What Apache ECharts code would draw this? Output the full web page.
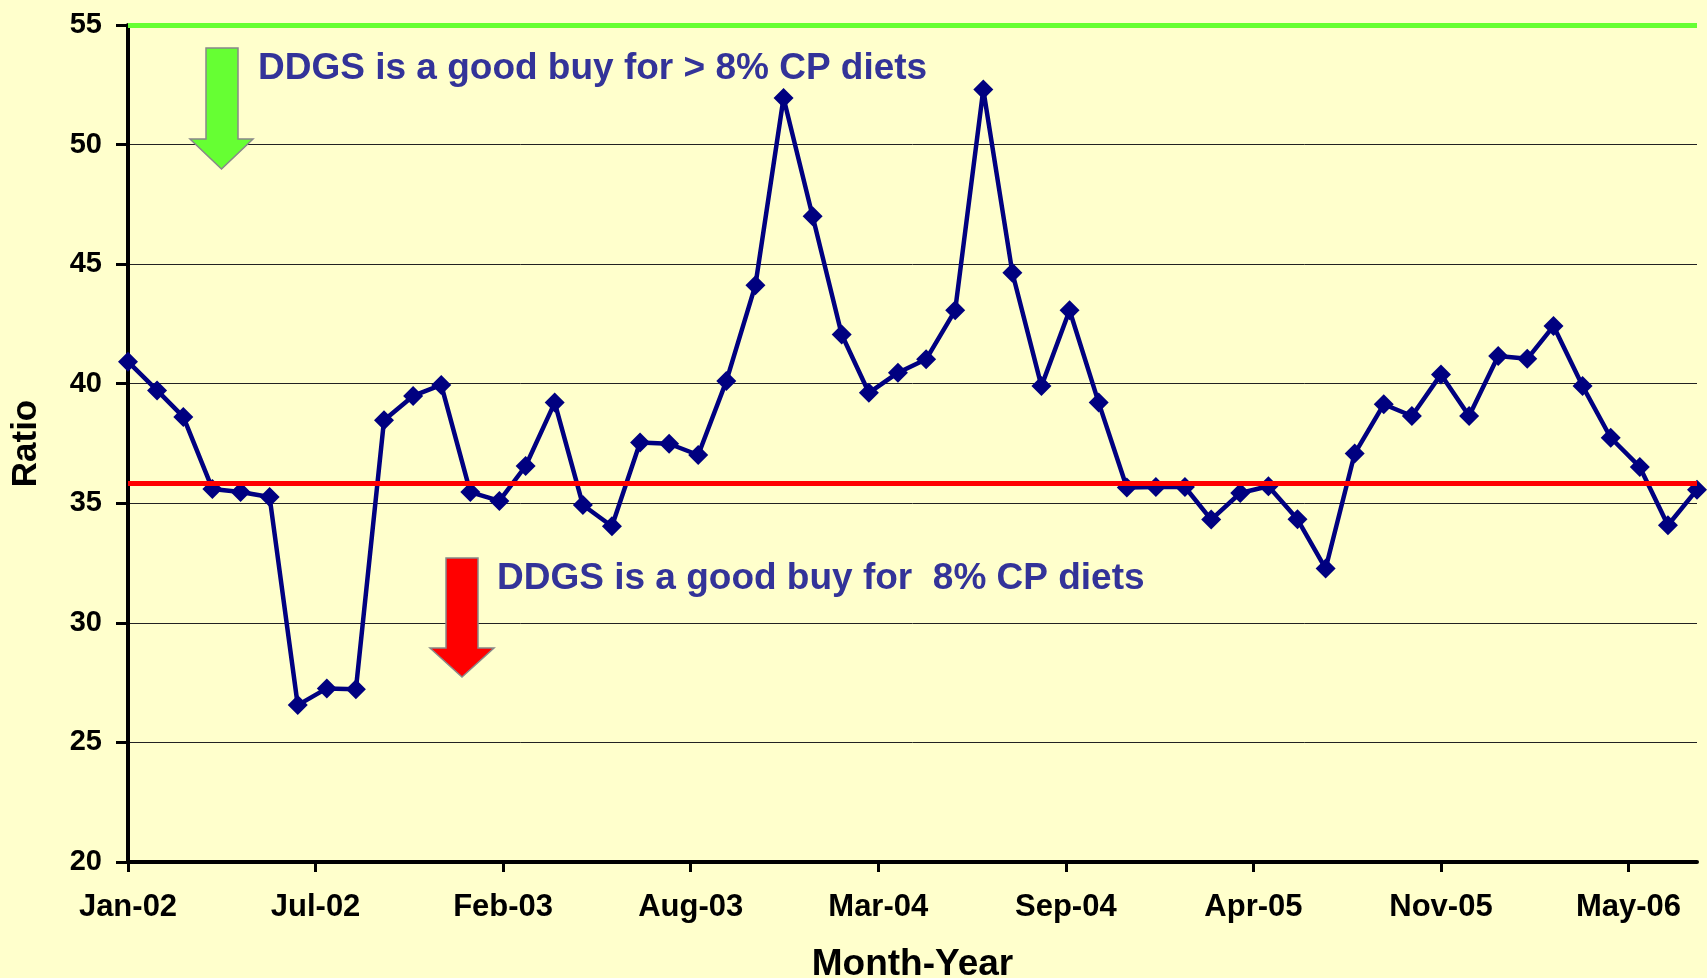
<!DOCTYPE html>
<html>
<head>
<meta charset="utf-8">
<title>DDGS ratio</title>
<script src="https://cdn.jsdelivr.net/npm/echarts@6/dist/echarts.min.js"></script>
<style>
	html, body { margin: 0; padding: 0; background: #FFFFCC; }
	#container { width: 1707px; height: 978px; }
</style>
</head>
<body>
<div id="container"></div>
<script>
// months of the series (first day of each month)
var months = [
	'2002-01', '2002-02', '2002-03', '2002-04', '2002-05', '2002-06', '2002-07', '2002-08', '2002-09', '2002-10', '2002-11', '2002-12',
	'2003-01', '2003-02', '2003-03', '2003-04', '2003-05', '2003-06', '2003-07', '2003-08', '2003-09', '2003-10', '2003-11', '2003-12',
	'2004-01', '2004-02', '2004-03', '2004-04', '2004-05', '2004-06', '2004-07', '2004-08', '2004-09', '2004-10', '2004-11', '2004-12',
	'2005-01', '2005-02', '2005-03', '2005-04', '2005-05', '2005-06', '2005-07', '2005-08', '2005-09', '2005-10', '2005-11', '2005-12',
	'2006-01', '2006-02', '2006-03', '2006-04', '2006-05', '2006-06', '2006-07', '2006-08'
];
var ratio = [
	40.92, 39.72, 38.61, 35.60, 35.47, 35.26, 26.56, 27.26, 27.22, 38.47, 39.49, 39.95,
	35.47, 35.10, 36.56, 39.21, 34.93, 34.04, 37.54, 37.49, 37.02, 40.11, 44.12, 51.95,
	47.00, 42.06, 39.62, 40.46, 41.02, 43.07, 52.30, 44.64, 39.90, 43.07, 39.21, 35.66,
	35.68, 35.68, 34.32, 35.43, 35.71, 34.33, 32.27, 37.08, 39.14, 38.65, 40.39, 38.65,
	41.16, 41.04, 42.41, 39.90, 37.74, 36.52, 34.08, 35.57
];
// date axis: tick every 200 days from Jan-02
var tickDays = [0, 200, 400, 600, 800, 1000, 1200, 1400, 1600];
var tickLabels = ['Jan-02', 'Jul-02', 'Feb-03', 'Aug-03', 'Mar-04', 'Sep-04', 'Apr-05', 'Nov-05', 'May-06'];
var yTicks = [20, 25, 30, 35, 40, 45, 50, 55];
var upperLimit = 55;
var lowerLimit = 35.82;
var noteHigh = 'DDGS is a good buy for > 8% CP diets';
var noteLow = 'DDGS is a good buy for  8% CP diets';

var page = {
	init() {
		this.initChart();
	},
	dayOf(m) {
		var p = m.split('-');
		return (Date.UTC(+p[0], +p[1] - 1, 1) - Date.UTC(2002, 0, 1)) / 86400000;
	},
	initChart() {
		var dom = document.getElementById('container');
		page.myChart = echarts.init(dom, null, { renderer: 'canvas' });
		var font = '"Liberation Sans", Arial, sans-serif';
		var dataArr = months.map(function (m, i) {
			return [page.dayOf(m), ratio[i]];
		});
		var lastDay = page.dayOf(months[months.length - 1]);

		var option = {
			animation: false,
			backgroundColor: '#FFFFCC',
			textStyle: { fontFamily: font },
			grid: { left: 128, right: 10, top: 25, bottom: 116, containLabel: false, outerBoundsMode: 'none' },
			xAxis: {
				type: 'value',
				min: 0,
				max: lastDay,
				name: 'Month-Year',
				nameLocation: 'middle',
				nameGap: 84,
				nameTextStyle: { fontFamily: font, fontSize: 37, fontWeight: 'bold', color: '#000' },
				axisLine: { show: true, lineStyle: { color: '#000', width: 4 } },
				axisTick: { show: true, length: 10, customValues: tickDays, lineStyle: { color: '#000', width: 3 } },
				axisLabel: {
					customValues: tickDays,
					margin: 30,
					fontFamily: font, fontSize: 31, fontWeight: 'bold', color: '#000',
					formatter: function (v) {
						var i = tickDays.indexOf(v);
						return i >= 0 ? tickLabels[i] : '';
					}
				},
				splitLine: { show: false }
			},
			yAxis: {
				type: 'value',
				min: yTicks[0],
				max: yTicks[yTicks.length - 1],
				interval: 5,
				name: 'Ratio',
				nameLocation: 'middle',
				nameRotate: 90,
				nameGap: 84,
				nameTextStyle: { fontFamily: font, fontSize: 35, fontWeight: 'bold', color: '#000' },
				axisLine: { show: true, lineStyle: { color: '#000', width: 4 } },
				axisTick: { show: true, length: 12, lineStyle: { color: '#000', width: 3 } },
				axisLabel: { margin: 26, fontFamily: font, fontSize: 29, fontWeight: 'bold', color: '#000' },
				splitLine: { show: true, lineStyle: { color: '#222', width: 1 } }
			},
			series: [{
				name: 'Ratio',
				type: 'line',
				data: dataArr,
				symbol: 'diamond',
				symbolSize: 20,
				showAllSymbol: true,
				lineStyle: { color: '#000080', width: 4.5 },
				itemStyle: { color: '#000080' },
				markLine: {
					silent: true,
					symbol: ['none', 'none'],
					label: { show: false },
					data: [
						{ yAxis: upperLimit, lineStyle: { color: '#66FF33', width: 5, type: 'solid' } },
						{ yAxis: lowerLimit, lineStyle: { color: '#FF0000', width: 5, type: 'solid' } }
					]
				}
			}],
			graphic: [
				{ // green arrow
					type: 'polygon', z: 10,
					shape: { points: [[206, 48], [238, 48], [238, 139], [253, 139], [221.5, 169], [190, 139], [206, 139]] },
					style: { fill: '#66FF33', stroke: '#888', lineWidth: 1.5 }
				},
				{ // red arrow
					type: 'polygon', z: 10,
					shape: { points: [[446, 558], [478, 558], [478, 648], [494, 648], [462, 677], [430, 648], [446, 648]] },
					style: { fill: '#FF0000', stroke: '#888', lineWidth: 1.5 }
				},
				{
					type: 'text', z: 10, x: 258, y: 69,
					style: { text: noteHigh, font: 'bold 37px ' + font, fill: '#333399', verticalAlign: 'middle' }
				},
				{
					type: 'text', z: 10, x: 497, y: 579,
					style: { text: noteLow, font: 'bold 37px ' + font, fill: '#333399', verticalAlign: 'middle' }
				}
			]
		};
		if (option && typeof option === 'object') {
			page.myChart.setOption(option, true);
		}
	}
};
page.init();
</script>
</body>
</html>
